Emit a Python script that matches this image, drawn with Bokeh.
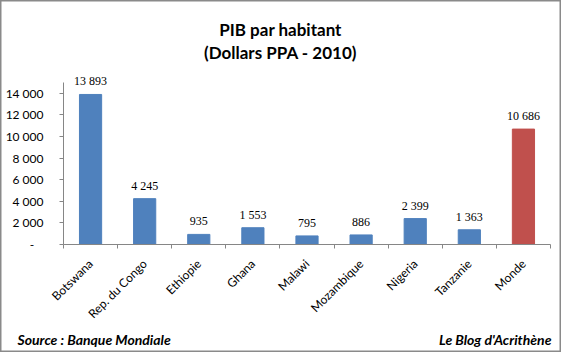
from bokeh.plotting import figure
from bokeh.models import FixedTicker, Label, LabelSet, ColumnDataSource, Range1d, LinearAxis
from bokeh.embed import file_html
from bokeh.resources import INLINE
import math

categories = ["Botswana", "Rep. du Congo", "Ethiopie", "Ghana", "Malawi",
              "Mozambique", "Nigeria", "Tanzanie", "Monde"]
values = [13893, 4245, 935, 1553, 795, 886, 2399, 1363, 10686]
bar_colors = ["#4F81BD"] * 8 + ["#C0504D"]
y_ticks = [0, 2000, 4000, 6000, 8000, 10000, 12000, 14000]
y_tick_labels = ["-\u00a0\u00a0\u00a0", "2 000", "4 000", "6 000", "8 000", "10 000", "12 000", "14 000"]
title_lines = ["PIB par habitant", "(Dollars PPA - 2010)"]
source_text = "Source : Banque Mondiale"
blog_text = "Le Blog d'Acrithène"

FONT = "Lato"
W, H = 561, 352
# plot area in page pixels
AX_L, AX_R, AX_B, AX_T = 63, 550, 244, 82
Y_MAX = 15000
n = len(categories)
xs_per = (AX_R - AX_L) / n
ys_per = (AX_B - AX_T) / Y_MAX

xs = [i + 0.5 for i in range(n)]
src = ColumnDataSource(dict(
    x=xs, top=values, color=bar_colors,
    lab=[f"{v:,}".replace(",", " ") for v in values],
))

p = figure(width=W, height=H, output_backend="svg", toolbar_location=None,
           x_range=Range1d(-AX_L / xs_per, n + (W - AX_R) / xs_per),
           y_range=Range1d(-(H - AX_B) / ys_per, AX_B / ys_per),
           x_axis_type=None, y_axis_type=None, min_border=0)
p.outline_line_color = "#8a8a8a"
p.outline_line_width = 2
p.xgrid.visible = False
p.ygrid.visible = False

p.vbar(x="x", top="top", width=0.41, color="color", source=src)

p.add_layout(LabelSet(x="x", y="top", text="lab", source=src, y_offset=9,
                      text_align="center", text_baseline="alphabetic",
                      text_font=FONT, text_font_size="12px", text_color="#000000"))

# y axis
ya = LinearAxis(fixed_location=0, bounds=(0, Y_MAX))
ya.ticker = FixedTicker(ticks=y_ticks)
ya.major_label_overrides = {t: l for t, l in zip(y_ticks, y_tick_labels)}
ya.axis_line_color = "#868686"
ya.major_tick_line_color = "#868686"
ya.major_tick_in = 0
ya.major_tick_out = 4
ya.minor_tick_line_color = None
ya.major_label_standoff = 16
ya.major_label_text_font = FONT
ya.major_label_text_font_size = "12px"
ya.major_label_text_color = "#000000"
p.add_layout(ya, "left")

# x axis
xa = LinearAxis(fixed_location=0, bounds=(0, n))
xa.ticker = FixedTicker(ticks=xs, minor_ticks=list(range(n + 1)))
xa.major_label_overrides = {x: c for x, c in zip(xs, categories)}
xa.axis_line_color = "#868686"
xa.major_tick_line_color = None
xa.minor_tick_line_color = "#868686"
xa.minor_tick_in = 0
xa.minor_tick_out = 4
xa.major_label_orientation = math.pi / 4
xa.major_label_standoff = 11
xa.major_label_text_font = FONT
xa.major_label_text_font_size = "12px"
xa.major_label_text_color = "#000000"
p.add_layout(xa, "below")

def lab(px, py, text, size, align, italic=False):
    return Label(x=px, y=H - py, x_units="screen", y_units="screen", text=text,
                 text_font=FONT, text_font_size=size,
                 text_font_style="bold italic" if italic else "bold",
                 text_align=align, text_baseline="alphabetic", text_color="#000000")

p.add_layout(lab(280, 29, title_lines[0], "17px", "center"))
p.add_layout(lab(280, 52, title_lines[1], "17px", "center"))
p.add_layout(lab(17, 339, source_text, "14px", "left", True))
p.add_layout(lab(551, 339, blog_text, "14px", "right", True))

open("out.html", "w").write(file_html(p, INLINE))
